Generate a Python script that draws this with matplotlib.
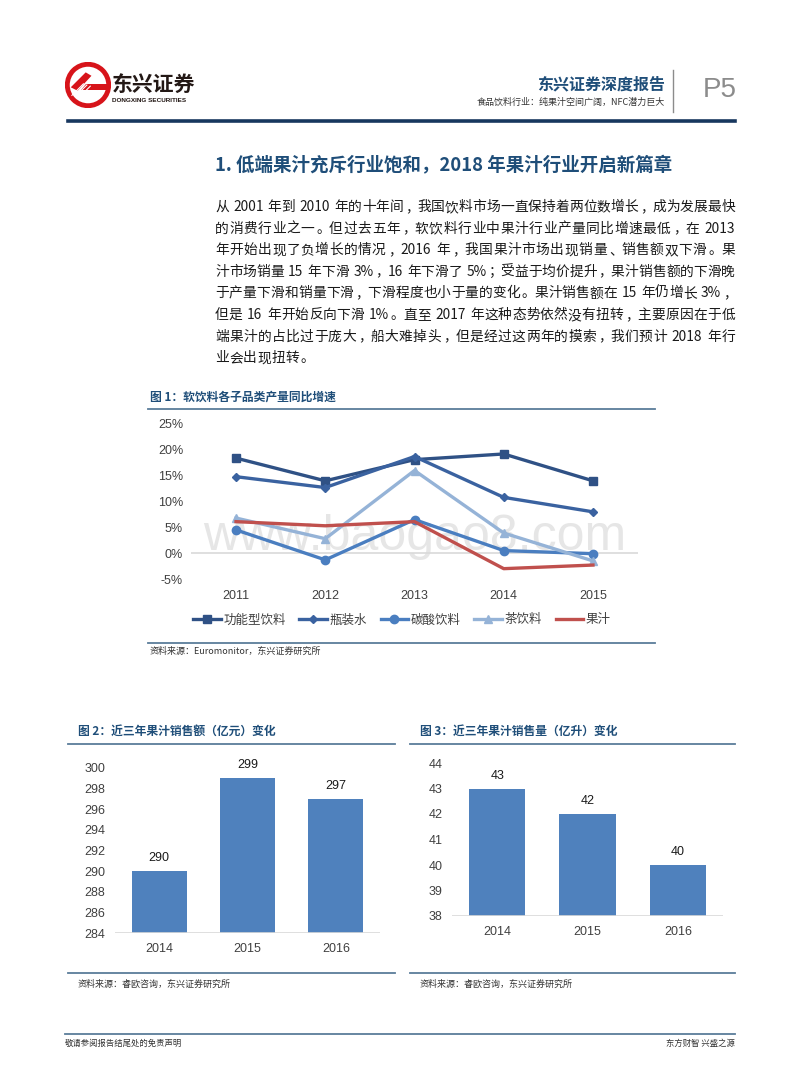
"""
Report page P5 (东兴证券): soft-drink growth lines + juice sales bars.
"""
import re
import numpy as np
import matplotlib
matplotlib.use('Agg')
import matplotlib.pyplot as plt
from matplotlib.patches import Circle, Polygon
from matplotlib.lines import Line2D

plt.rcParams['font.family'] = ['Liberation Sans', 'Noto Sans CJK SC', 'DejaVu Sans']
CJK = ['Noto Sans CJK SC', 'DejaVu Sans']

# ---- data ----
years1 = ['2011', '2012', '2013', '2014', '2015']
series_names = ['功能型饮料', '瓶装水', '碳酸饮料', '茶饮料', '果汁']
functional = [18.4, 14.0, 18.1, 19.2, 14.0]
water = [14.8, 12.7, 18.7, 10.8, 8.0]
carbonated = [4.5, -1.3, 6.5, 0.5, -0.1]
tea = [6.8, 2.8, 16.0, 3.9, -1.5]
juice = [6.1, 5.3, 6.1, -3.0, -2.3]
yticks1 = [-5, 0, 5, 10, 15, 20, 25]

years2 = ['2014', '2015', '2016']
sales_value = [290, 299, 297]      # 亿元
sales_volume = [43, 42, 40]        # 亿升
yticks2 = list(range(284, 301, 2))
yticks3 = list(range(38, 45))

paragraph = [
    '从 2001 年到 2010 年的十年间，我国饮料市场一直保持着两位数增长，成为发展最快',
    '的消费行业之一。但过去五年，软饮料行业中果汁行业产量同比增速最低，在 2013',
    '年开始出现了负增长的情况，2016 年，我国果汁市场出现销量、销售额双下滑。果',
    '汁市场销量 15 年下滑 3%，16 年下滑了 5%；受益于均价提升，果汁销售额的下滑晚',
    '于产量下滑和销量下滑，下滑程度也小于量的变化。果汁销售额在 15 年仍增长 3%，',
    '但是 16 年开始反向下滑 1%。直至 2017 年这种态势依然没有扭转，主要原因在于低',
    '端果汁的占比过于庞大，船大难掉头，但是经过这两年的摸索，我们预计 2018 年行',
    '业会出现扭转。',
]

W, H = 800, 1086
NAVY = '#1F4E79'
STEEL = '#5A7D9A'
BAR = '#4F81BD'
GRID = '#D9D9D9'
PUNCT = '，。、；：'


def fx(x):
    return x / W


def fy(y):
    return 1 - y / H


def rect(x0, y0, x1, y1):
    # pixel box (top-left origin) -> figure rect
    return [fx(x0), fy(y1), (x1 - x0) / W, (y1 - y0) / H]


fig = plt.figure(figsize=(8, 10.86), dpi=100)
fig.patch.set_facecolor('white')
renderer = fig.canvas.get_renderer()


def hline(y, x0, x1, color, lw):
    fig.add_artist(Line2D([fx(x0), fx(x1)], [fy(y), fy(y)], color=color, lw=lw,
                          transform=fig.transFigure))


def text(x, y, s, **kw):
    kw.setdefault('family', CJK)
    kw.setdefault('va', 'center')
    return fig.text(fx(x), fy(y), s, **kw)


def justified(x0, y, s, fontsize, color, x1=None, gap=None):
    # place tokens one by one so the line fills x0..x1 like the typeset page
    em = fontsize * 100 / 72
    base = y + 0.36 * em
    tokens = re.findall(r'[0-9A-Za-z%.]+| |.', s)
    widths = []
    for tok in tokens:
        if tok == ' ':
            widths.append(0.3 * em)
        elif tok.isascii():
            t = text(0, y, tok, fontsize=fontsize)
            widths.append(t.get_window_extent(renderer).width)
            t.remove()
        else:
            widths.append(em)
    if gap is None:
        gap = (x1 - x0 - sum(widths)) / max(len(tokens) - 1, 1)
    pos = x0
    for tok, w in zip(tokens, widths):
        kw = dict(fontsize=fontsize, color=color, va='baseline')
        if tok == ' ':
            pass
        elif tok.isascii():
            text(pos, base, tok, **kw)
        elif tok in PUNCT:
            text(pos + 0.12 * em, base, tok, **kw)
        else:
            text(pos + em / 2, base, tok, ha='center', **kw)
        pos += w + gap
    return gap


# ---- header ----
logo = fig.add_axes(rect(64, 62, 112, 108))
logo.set_xlim(-1, 1)
logo.set_ylim(-1, 1)
logo.set_aspect('equal')
logo.axis('off')
logo.add_patch(Circle((0, 0), 0.9, fc='white', ec='#D7141A', lw=3.5))
logo.add_patch(Polygon([[-0.75, -0.1], [-0.1, 0.55], [0.15, 0.4], [-0.45, -0.25]],
                       fc='#D7141A', ec='none'))
logo.add_patch(Polygon([[-0.1, 0.05], [0.88, 0.05], [0.88, -0.2], [-0.3, -0.2]],
                       fc='#D7141A', ec='none'))
for k in range(3):
    logo.plot([-0.7 + 0.15 * k, -0.2 + 0.15 * k], [-0.45 - 0.05 * k, 0.05 - 0.05 * k],
              color='white', lw=0.8)

text(112, 84, '东兴证券', fontsize=15, fontweight='bold', color='#231815')
text(112, 101, 'DONGXING SECURITIES', fontsize=4.6, fontweight='bold', color='#231815',
     family=['Liberation Sans'])
text(665, 84, '东兴证券深度报告', fontsize=11.5, fontweight='bold', color=NAVY, ha='right')
text(665, 102, '食品饮料行业：纯果汁空间广阔，NFC潜力巨大', fontsize=6.5, color='#333333', ha='right')
fig.add_artist(Line2D([fx(673), fx(673)], [fy(70), fy(112)], color='#8C8C8C', lw=1,
                      transform=fig.transFigure))
text(720, 90, 'P5', fontsize=20, color='#8C8C8C', ha='center', family=['Liberation Sans'])
hline(121, 68, 735, '#17375E', 2.6)

# ---- section title + paragraph ----
text(215, 165, '1. 低端果汁充斥行业饱和，2018 年果汁行业开启新篇章', fontsize=13.3,
     fontweight='bold', color=NAVY)
gaps = []
for i, line in enumerate(paragraph[:-1]):
    gaps.append(justified(215, 206 + i * 21.6, line, 9.9, '#1A1A1A', x1=735))
justified(215, 206 + (len(paragraph) - 1) * 21.6, paragraph[-1], 9.9, '#1A1A1A',
          gap=float(np.mean(gaps)))

# ---- figure 1 ----
text(150, 397, '图 1：软饮料各子品类产量同比增速', fontsize=8.5, fontweight='bold', color=NAVY)
hline(409, 148, 655, STEEL, 1.3)

ax1 = fig.add_axes(rect(191.4, 424, 637.6, 579))
x1 = np.arange(len(years1))
ax1.set_xlim(-0.5, len(years1) - 0.5)
ax1.set_ylim(-5, 25)
ax1.axhline(0, color=GRID, lw=1.2, zorder=1)
ax1.text(0.5, 0.27, 'www.baogao8.com', transform=ax1.transAxes, fontsize=36,
         color='#E6E6E6', ha='center', va='center', zorder=0.5,
         family=['Liberation Sans'])
styles = [
    (functional, '#2F5185', 's', 5.5),
    (water, '#3A62A0', 'D', 4),
    (carbonated, '#4A7EC0', 'o', 6),
    (tea, '#95B3D7', '^', 5.5),
    (juice, '#C0504D', None, 0),
]
for (vals, col, mk, ms), name in zip(styles, series_names):
    ax1.plot(x1, vals, color=col, lw=2.4, marker=mk, markersize=ms, label=name, zorder=3)
ax1.set_xticks(x1)
ax1.set_xticklabels(years1)
ax1.set_yticks(yticks1)
ax1.set_yticklabels([f'{v}%' for v in yticks1])
ax1.tick_params(length=0, labelsize=9, colors='#404040')
ax1.tick_params(axis='x', pad=8)
ax1.tick_params(axis='y', pad=6)
for s in ax1.spines.values():
    s.set_visible(False)
ax1.patch.set_alpha(0)

h, l = ax1.get_legend_handles_labels()
leg = fig.legend(h, l, loc='center', bbox_to_anchor=(fx(402), fy(620)), ncol=5,
                 frameon=False, handlelength=2.2, handletextpad=0.2, columnspacing=1.1,
                 prop={'family': CJK, 'size': 9})
for t in leg.get_texts():
    t.set_color('#404040')

hline(643, 148, 655, STEEL, 1.3)
text(150, 651, '资料来源：Euromonitor，东兴证券研究所', fontsize=6.5, color='#333333',
     style='italic')


# ---- figures 2 & 3 ----
def bar_chart(box, vals, yticks):
    ax = fig.add_axes(rect(*box))
    xs = np.arange(len(years2))
    ax.bar(xs, vals, width=0.62, color=BAR, zorder=2)
    ax.set_xlim(-0.5, len(years2) - 0.5)
    ax.set_ylim(yticks[0], yticks[-1])
    ax.set_xticks(xs)
    ax.set_xticklabels(years2)
    ax.set_yticks(yticks)
    ax.tick_params(length=0, labelsize=9, colors='#404040')
    ax.tick_params(axis='x', pad=7)
    ax.tick_params(axis='y', pad=7)
    for s in ax.spines.values():
        s.set_visible(False)
    ax.axhline(yticks[0], color=GRID, lw=1.2, zorder=3)
    for xv, v in zip(xs, vals):
        ax.annotate(f'{v}', (xv, v), xytext=(0, 5), textcoords='offset points',
                    ha='center', va='bottom', fontsize=9, color='#1A1A1A')
    return ax


text(78, 731, '图 2：近三年果汁销售额（亿元）变化', fontsize=8.5, fontweight='bold', color=NAVY)
hline(744, 68, 395, STEEL, 1.3)
bar_chart((115, 768, 380, 933), sales_value, yticks2)
hline(973, 68, 395, STEEL, 1.3)
text(78, 984, '资料来源：睿欧咨询，东兴证券研究所', fontsize=6.5, color='#333333')

text(420, 731, '图 3：近三年果汁销售量（亿升）变化', fontsize=8.5, fontweight='bold', color=NAVY)
hline(744, 410, 735, STEEL, 1.3)
bar_chart((452, 763, 723, 916), sales_volume, yticks3)
hline(973, 410, 735, STEEL, 1.3)
text(420, 984, '资料来源：睿欧咨询，东兴证券研究所', fontsize=6.5, color='#333333')

# ---- footer ----
hline(1034, 65, 735, STEEL, 1.3)
text(65, 1043, '敬请参阅报告结尾处的免责声明', fontsize=6, color='#333333')
text(735, 1043, '东方财智 兴盛之源', fontsize=6, color='#333333', ha='right')

fig.savefig('out.png', dpi=100, facecolor='white')
